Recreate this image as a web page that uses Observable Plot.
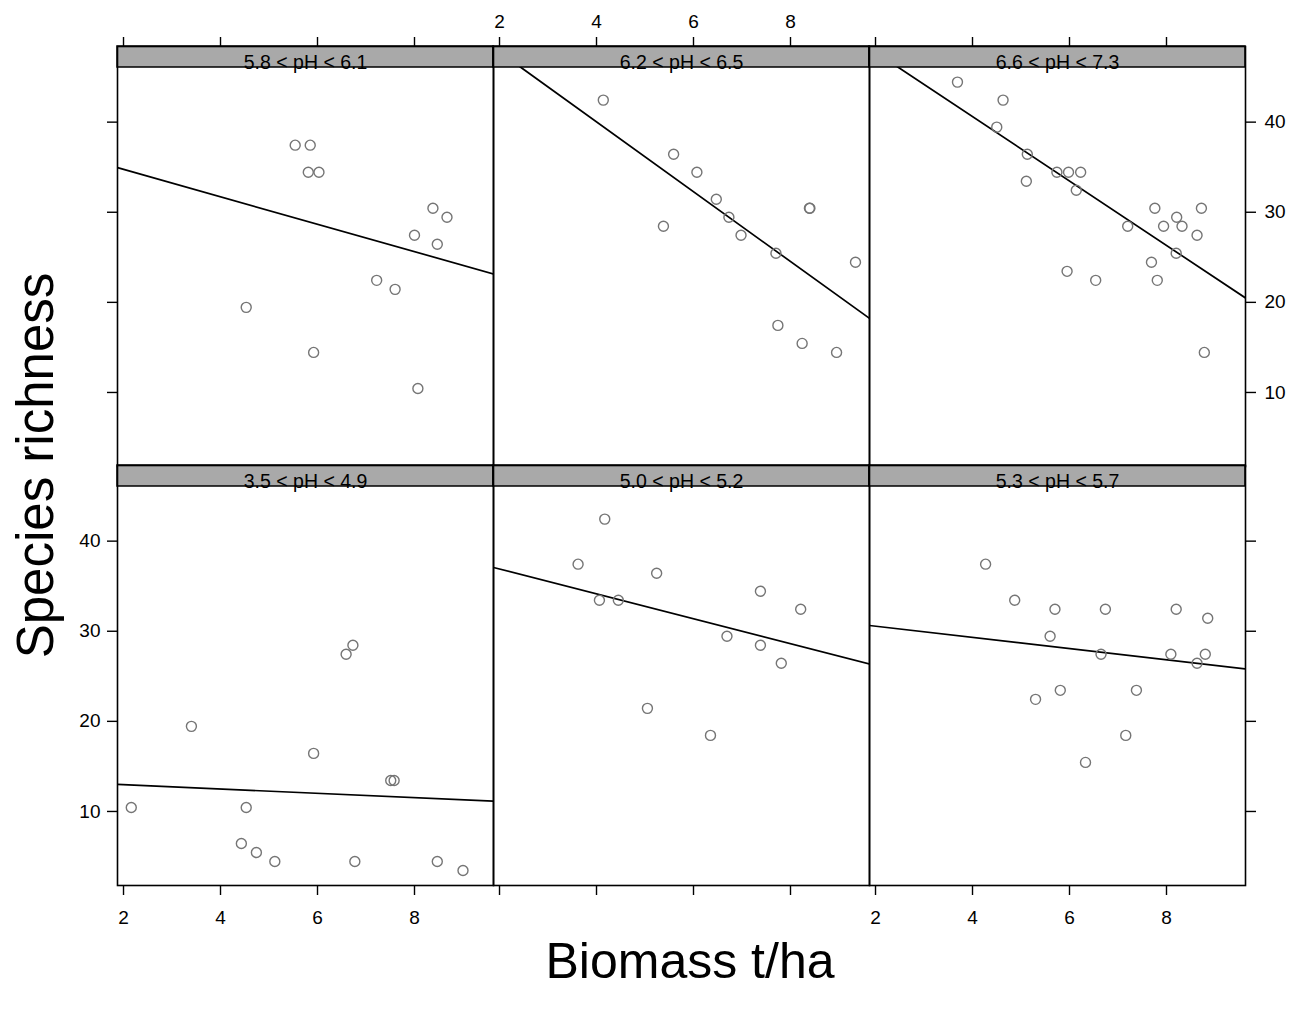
<!DOCTYPE html>
<html><head><meta charset="utf-8">
<script src="https://cdn.jsdelivr.net/npm/d3@7"></script>
<script src="https://cdn.jsdelivr.net/npm/@observablehq/plot@0.6"></script>
<style>
html,body{margin:0;padding:0;background:#fff;}
#chart{position:relative;width:1291px;height:1010px;overflow:hidden;font-family:"Liberation Sans",Arial,sans-serif;background:#fff;}
.panel{position:absolute;}
.panel svg{max-width:none !important;}
.panel svg g[aria-label$="tick label"]{font-size:19px !important;}
.panel svg g[aria-label$="tick label"] text{font-size:19px !important;}
.title{position:absolute;font-size:50px;line-height:1;color:#000;white-space:nowrap;text-align:center;}
</style></head><body><div id="chart"></div>
<script>
// Panel labels (lattice strips), in drawing order: top row then bottom row
const panelLabels = ["5.8 < pH < 6.1", "6.2 < pH < 6.5", "6.6 < pH < 7.3",
                     "3.5 < pH < 4.9", "5.0 < pH < 5.2", "5.3 < pH < 5.7"];

// Biomass (t/ha) and species richness per panel
const biomass1 = [5.54, 5.85, 5.81, 6.03, 8.38, 8.67, 8.00, 8.47, 7.22, 7.60, 4.53, 5.92, 8.07];
const richness1 = [37, 37, 34, 34, 30, 29, 27, 26, 22, 21, 19, 14, 10];

const biomass2 = [4.14, 5.59, 6.07, 6.47, 6.73, 5.38, 6.98, 7.70, 8.39, 8.40, 9.34, 7.74, 8.24, 8.95];
const richness2 = [42, 36, 34, 31, 29, 28, 27, 25, 30, 30, 24, 17, 15, 14];

const biomass3 = [3.69, 4.63, 4.50, 5.13, 5.11, 5.74, 5.98, 6.23, 6.14, 7.76, 8.72, 8.21, 7.20, 7.94, 8.32, 8.63, 8.20, 7.69, 5.95, 6.54, 7.81, 8.78];
const richness3 = [44, 42, 39, 36, 33, 34, 34, 34, 32, 30, 30, 29, 28, 28, 28, 27, 25, 24, 23, 22, 22, 14];

const biomass4 = [2.16, 3.40, 4.53, 4.43, 4.74, 5.12, 5.92, 6.59, 6.73, 7.51, 7.58, 6.77, 8.47, 9.00];
const richness4 = [10, 19, 10, 6, 5, 4, 16, 27, 28, 13, 13, 4, 4, 3];

const biomass5 = [4.17, 3.62, 4.06, 4.45, 5.24, 7.38, 8.21, 6.69, 7.38, 7.81, 5.05, 6.35];
const richness5 = [42, 37, 33, 33, 36, 34, 32, 29, 28, 26, 21, 18];

const biomass6 = [4.27, 4.87, 5.70, 6.74, 8.20, 8.85, 5.60, 6.65, 8.09, 8.80, 8.63, 5.81, 5.30, 7.38, 7.16, 6.33];
const richness6 = [37, 33, 32, 32, 32, 31, 29, 27, 27, 27, 26, 23, 22, 23, 18, 15];

// Fitted regression lines (intercept, slope) per panel
const fitIntercept = [37.36, 55.09, 54.47, 13.01, 39.22, 31.36];
const fitSlope = [-1.522, -3.875, -3.575, -0.2406, -1.380, -0.622];

// Axis settings
const xTicks = [2, 4, 6, 8];
const yTicks = [10, 20, 30, 40];
const xLimits = [1.876, 9.629];
const yLimits = [1.34, 45.62];

const biomassSets = [biomass1, biomass2, biomass3, biomass4, biomass5, biomass6];
const richnessSets = [richness1, richness2, richness3, richness4, richness5, richness6];

// Layout (pixels)
const L = {cellW: 376, panelH: 399, stripH: 21, left0: 117, rowTop: [45.7, 465.0],
           ml: 60, mr: 60, mt: 50, mb: 50};

const chart = document.getElementById("chart");
const yStripTop = yLimits[1] + (yLimits[1] - yLimits[0]) * L.stripH / L.panelH;
const font = "'Liberation Sans', Arial, sans-serif";

panelLabels.forEach((label, i) => {
  const r = Math.floor(i / 3), c = i % 3;
  const pts = biomassSets[i].map((x, j) => ({x, y: richnessSets[i][j]}));
  const fit = xLimits.map(x => ({x, y: fitIntercept[i] + fitSlope[i] * x}));
  const marks = [
    Plot.line(fit, {x: "x", y: "y", stroke: "black", strokeWidth: 1.7, clip: true}),
    Plot.dot(pts, {x: "x", y: "y", r: 5, stroke: "#757575", strokeWidth: 1.4, fill: "none"}),
    Plot.rect([label], {x1: () => xLimits[0], x2: () => xLimits[1], y1: () => yLimits[1], y2: () => yStripTop,
                        fill: "#a9a9a9", stroke: "black", strokeWidth: 1.5}),
    Plot.text([label], {text: d => d, frameAnchor: "top", lineAnchor: "bottom", dy: 22, fontSize: 19.5, fill: "black"}),
    Plot.frame({stroke: "black", strokeWidth: 1.6})
  ];
  const blank = () => "";
  const num = d => String(d);
  const common = {ticks: xTicks, tickSize: 10, fontSize: 19, strokeWidth: 1.4, label: null};
  if (r === 0) marks.push(Plot.axisX({...common, anchor: "top", tickPadding: 9, tickFormat: c === 1 ? num : blank}));
  if (r === 1) marks.push(Plot.axisX({...common, anchor: "bottom", tickPadding: 15, tickFormat: c !== 1 ? num : blank}));
  const commonY = {ticks: yTicks, tickSize: 10, fontSize: 19, strokeWidth: 1.4, label: null, dy: 4};
  if (c === 0) marks.push(Plot.axisY({...commonY, anchor: "left", tickPadding: 7, tickFormat: r === 1 ? num : blank}));
  if (c === 2) marks.push(Plot.axisY({...commonY, anchor: "right", tickPadding: 9, tickFormat: r === 0 ? num : blank}));
  const W = L.ml + L.cellW + L.mr, H = L.mt + L.stripH + L.panelH + L.mb;
  const svg = Plot.plot({
    width: W,
    height: H,
    marginLeft: L.ml, marginRight: L.mr, marginTop: L.mt, marginBottom: L.mb,
    x: {domain: xLimits, axis: null},
    y: {domain: [yLimits[0], yStripTop], axis: null},
    style: {background: "transparent", color: "black", fontFamily: font, overflow: "visible", maxWidth: "none"},
    marks
  });
  const holder = document.createElement("div");
  holder.className = "panel";
  holder.style.left = (L.left0 + c * L.cellW - L.ml) + "px";
  holder.style.top = (L.rowTop[r] - L.mt) + "px";
  holder.style.width = W + "px";
  holder.style.height = H + "px";
  holder.appendChild(svg);
  chart.appendChild(holder);
});

// Axis titles
const xt = document.createElement("div");
xt.className = "title";
xt.textContent = "Biomass t/ha";
xt.style.fontSize = "50px";
xt.style.width = "600px";
xt.style.left = (690 - 300) + "px";
xt.style.top = "936px";
chart.appendChild(xt);

const yt = document.createElement("div");
yt.className = "title";
yt.textContent = "Species richness";
yt.style.fontSize = "51px";
yt.style.width = "500px";
yt.style.height = "51px";
yt.style.left = (35.3 - 250) + "px";
yt.style.top = (465 - 25.5) + "px";
yt.style.transform = "rotate(-90deg)";
chart.appendChild(yt);
</script></body></html>
